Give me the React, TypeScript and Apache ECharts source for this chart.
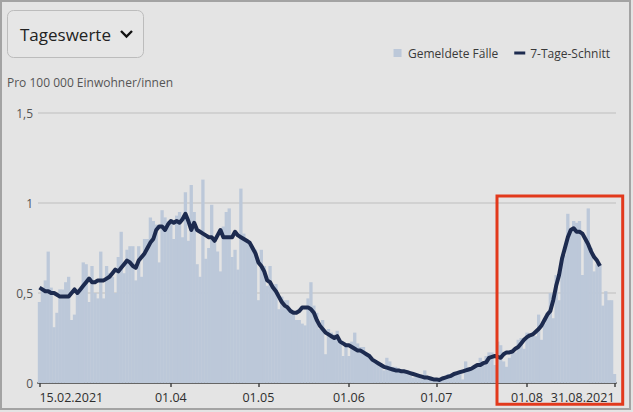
import React, { useEffect, useRef } from "react";
import * as echarts from "echarts";

// Tick positions (day index from 15.02.2021) and their labels
const tickDays = [0, 45, 75, 106, 136, 167, 197];
const tickLabels = ["15.02.2021", "01.04", "01.05", "01.06", "01.07", "01.08", "31.08.2021"];

const yTicks = [0, 0.5, 1, 1.5];

// Gemeldete Fälle (per 100 000), one value per day from 15.02.2021
const reported: number[] = [
  0.45, 0.53, 0.57, 0.73, 0.53, 0.31, 0.39, 0.52, 0.52, 0.56,
  0.59, 0.35, 0.38, 0.5, 0.52, 0.67, 0.66, 0.45, 0.65, 0.5,
  0.47, 0.73, 0.47, 0.65, 0.61, 0.59, 0.5, 0.7, 0.84, 0.61,
  0.74, 0.76, 0.76, 0.57, 0.76, 0.59, 0.8, 0.8, 0.92, 0.9,
  0.88, 0.67, 0.96, 0.92, 0.9, 0.9, 0.8, 0.93, 0.95, 0.81,
  1.06, 0.79, 1.1, 0.95, 0.66, 0.59, 1.13, 0.69, 0.75, 0.99,
  0.78, 0.73, 0.62, 0.87, 0.95, 0.97, 0.7, 0.74, 0.63, 1.08,
  0.83, 0.8, 0.78, 0.75, 0.74, 0.46, 0.74, 0.65, 0.54, 0.65,
  0.52, 0.55, 0.41, 0.48, 0.46, 0.46, 0.41, 0.38, 0.35, 0.35,
  0.33, 0.32, 0.47, 0.56, 0.43, 0.39, 0.3, 0.35, 0.16, 0.3,
  0.28, 0.27, 0.29, 0.24, 0.15, 0.21, 0.15, 0.23, 0.28, 0.22,
  0.2, 0.2, 0.16, 0.16, 0.13, 0.12, 0.11, 0.1, 0.07, 0.14,
  0.12, 0.09, 0.09, 0.08, 0.07, 0.06, 0.07, 0.05, 0.03, 0.04,
  0.03, 0.04, 0.07, 0.03, 0.02, 0.01, 0.02, 0.02, 0.03, 0.03,
  0.05, 0.05, 0.04, 0.05, 0.06, 0.02, 0.12, 0.08, 0.07, 0.1,
  0.1, 0.14, 0.11, 0.15, 0.17, 0.17, 0.1, 0.23, 0.21, 0.12,
  0.09, 0.14, 0.18, 0.17, 0.24, 0.25, 0.19, 0.28, 0.27, 0.28,
  0.26, 0.38, 0.24, 0.33, 0.39, 0.5, 0.36, 0.6, 0.46, 0.7,
  0.71, 0.94, 0.85, 0.9, 0.89, 0.9, 0.6, 0.79, 0.97, 0.75,
  0.62, 0.66, 0.66, 0.43, 0.51, 0.46, 0.46, 0.05,
];

// 7-Tage-Schnitt, one value per day; the average stops a few days before the end
const avg7: (number | null)[] = [
  0.53, 0.52, 0.51, 0.51, 0.5, 0.5, 0.49, 0.48, 0.48, 0.48,
  0.48, 0.5, 0.52, 0.5, 0.52, 0.54, 0.56, 0.58, 0.56, 0.56,
  0.57, 0.57, 0.57, 0.58, 0.59, 0.61, 0.63, 0.62, 0.64, 0.66,
  0.68, 0.67, 0.65, 0.64, 0.68, 0.7, 0.72, 0.75, 0.78, 0.8,
  0.85, 0.87, 0.87, 0.85, 0.88, 0.9, 0.89, 0.9, 0.89, 0.91,
  0.94, 0.9, 0.85, 0.89, 0.85, 0.84, 0.83, 0.82, 0.81, 0.81,
  0.79, 0.82, 0.85, 0.81, 0.81, 0.81, 0.81, 0.84, 0.82, 0.81,
  0.8, 0.79, 0.78, 0.75, 0.72, 0.67, 0.65, 0.62, 0.57, 0.56,
  0.53, 0.51, 0.48, 0.45, 0.43, 0.42, 0.4, 0.39, 0.39, 0.4,
  0.42, 0.42, 0.42, 0.41, 0.39, 0.35, 0.32, 0.3, 0.28, 0.27,
  0.26, 0.25, 0.26, 0.23, 0.22, 0.21, 0.21, 0.2, 0.19, 0.18,
  0.18, 0.17, 0.16, 0.15, 0.13, 0.12, 0.11, 0.1, 0.09, 0.085,
  0.08, 0.075, 0.07, 0.07, 0.065, 0.065, 0.06, 0.055, 0.05, 0.045,
  0.04, 0.035, 0.03, 0.03, 0.025, 0.02, 0.02, 0.017, 0.025, 0.03,
  0.035, 0.04, 0.05, 0.055, 0.06, 0.065, 0.07, 0.075, 0.08, 0.09,
  0.1, 0.1, 0.11, 0.115, 0.14, 0.145, 0.15, 0.145, 0.14, 0.16,
  0.17, 0.17, 0.175, 0.19, 0.2, 0.22, 0.24, 0.255, 0.265, 0.27,
  0.285, 0.3, 0.32, 0.35, 0.38, 0.4, 0.46, 0.54, 0.6, 0.69,
  0.75, 0.81, 0.85, 0.86, 0.84, 0.84, 0.83, 0.8, 0.77, 0.73,
  0.7, 0.68, 0.65, null, null, null, null, null,
];

const FONT = "'Open Sans', 'Noto Sans', sans-serif";

export default function App() {
  const ref = useRef<HTMLDivElement>(null);

  useEffect(() => {
    if (!ref.current) return;
    const chart = echarts.init(ref.current, undefined, { renderer: "svg" });
    const barData = reported.map((v, i) => [i, v]);
    const lineData = avg7.map((v, i) => [i, v]);
    chart.setOption({
      animation: false,
      backgroundColor: "#e4e4e4",
      textStyle: { fontFamily: FONT },
      grid: { left: 38, right: 17, top: 113, bottom: 29, containLabel: false },
      legend: {
        right: 18,
        top: 42,
        itemWidth: 11,
        itemHeight: 8,
        itemGap: 16,
        textStyle: { fontSize: 12, color: "#3a3a3a", fontFamily: FONT },
        data: [
          { name: "Gemeldete Fälle", icon: "path://M0,0H8V8H0Z" },
          { name: "7-Tage-Schnitt", icon: "path://M0,0H11V3H0Z" },
        ],
      },
      xAxis: {
        type: "value",
        min: -0.5,
        max: 197.5,
        splitLine: { show: false },
        axisLine: { show: true, lineStyle: { color: "#666", width: 2 } },
        axisTick: {
          show: true,
          customValues: tickDays,
          length: 4,
          lineStyle: { color: "#444", width: 1.5 },
        },
        axisLabel: {
          customValues: tickDays,
          alignMinLabel: "left",
          alignMaxLabel: "right",
          margin: 8,
          fontSize: 12.5,
          color: "#2e2e2e",
          fontFamily: FONT,
          formatter: (v: number) => {
            const k = tickDays.indexOf(Math.round(v));
            return k >= 0 ? tickLabels[k] : "";
          },
        },
      },
      yAxis: {
        type: "value",
        min: 0,
        max: 1.5,
        interval: 0.5,
        axisLine: { show: false },
        axisTick: { show: false },
        splitLine: { lineStyle: { color: "#cbcbcb", width: 1.5 } },
        axisLabel: {
          margin: 5,
          fontSize: 12,
          color: "#555",
          fontFamily: FONT,
          formatter: (v: number) => (yTicks.includes(v) ? String(v).replace(".", ",") : ""),
        },
      },
      series: [
        {
          name: "Gemeldete Fälle",
          type: "bar",
          data: barData,
          barWidth: 3.3,
          itemStyle: { color: "#bcc8d9" },
          z: 1,
        },
        {
          name: "7-Tage-Schnitt",
          type: "line",
          data: lineData,
          showSymbol: false,
          symbol: "none",
          connectNulls: false,
          lineStyle: { color: "#1d2b4f", width: 4, join: "round" },
          itemStyle: { color: "#1d2b4f" },
          z: 3,
        },
      ],
      graphic: [
        {
          type: "rect",
          shape: { x: 7.5, y: 10.5, width: 136, height: 47, r: 6 },
          style: { fill: "#e6e6e6", stroke: "#bcbcbc", lineWidth: 1 },
          z: 10,
        },
        {
          type: "text",
          x: 20,
          y: 34,
          style: {
            text: "Tageswerte",
            font: `17px ${FONT}`,
            fill: "#222",
            verticalAlign: "middle",
          },
          z: 11,
        },
        {
          type: "polyline",
          shape: { points: [[121, 31], [126.5, 36.5], [132, 31]] },
          style: { stroke: "#111", lineWidth: 2.4, fill: null },
          z: 11,
        },
        {
          type: "text",
          x: 7,
          y: 82.5,
          style: {
            text: "Pro 100 000 Einwohner/innen",
            font: `12px ${FONT}`,
            fill: "#555",
            verticalAlign: "middle",
          },
          z: 11,
        },
        {
          type: "rect",
          shape: { x: 497, y: 196, width: 125.7, height: 208.2 },
          style: { fill: null, stroke: "#e2391c", lineWidth: 3 },
          z: 20,
        },
      ],
    });
    return () => chart.dispose();
  }, []);

  return (
    <div style={{ position: "fixed", left: 0, top: 0, width: 633, height: 412 }}>
      <div ref={ref} style={{ position: "absolute", left: 0, top: 0, width: 633, height: 412 }} />
      <div
        style={{
          position: "absolute",
          left: 0,
          top: 0,
          width: 631,
          height: 410,
          boxSizing: "border-box",
          border: "2px solid #a3a3a3",
          pointerEvents: "none",
        }}
      />
    </div>
  );
}
